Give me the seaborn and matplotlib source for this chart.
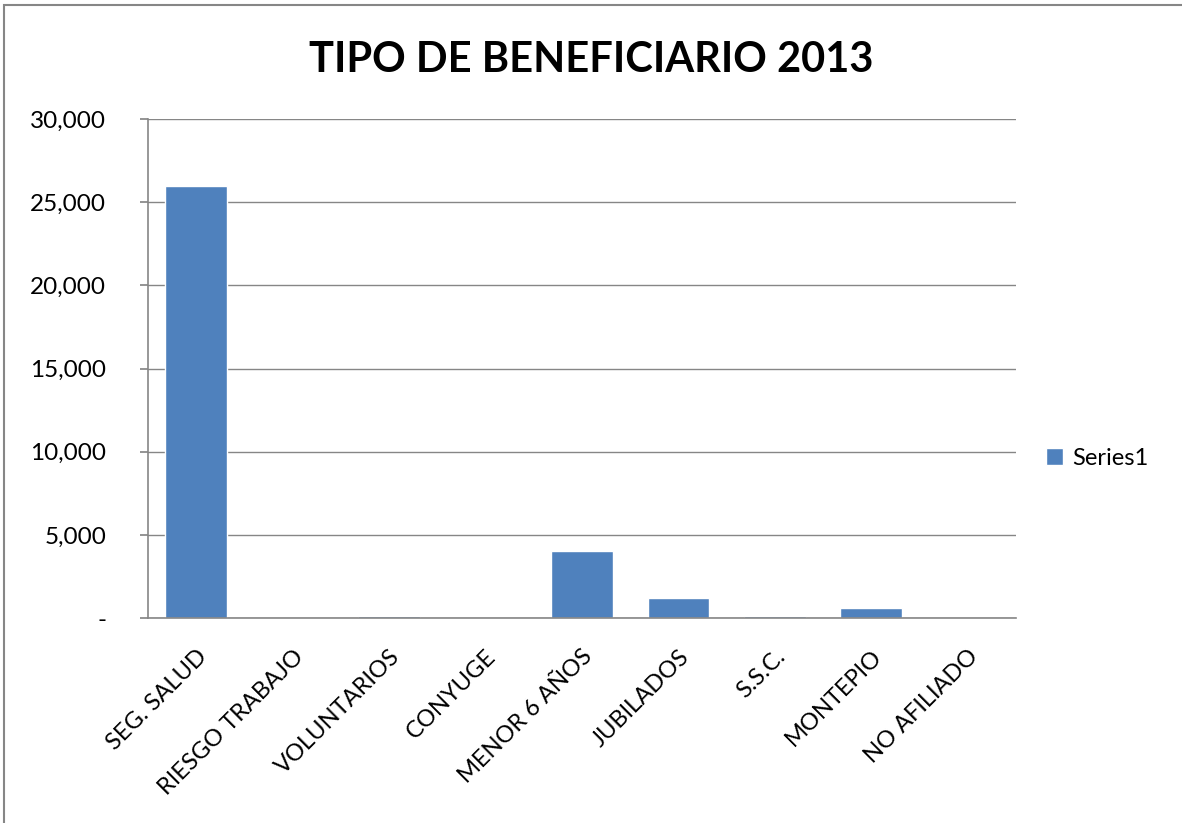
import matplotlib
matplotlib.use("Agg")
import matplotlib.pyplot as plt
import matplotlib.ticker as mticker
from matplotlib.patches import Rectangle
import pandas as pd
import seaborn as sns

# Datos
categorias = ["SEG. SALUD", "RIESGO TRABAJO", "VOLUNTARIOS", "CONYUGE", "MENOR 6 AÑOS",
              "JUBILADOS", "S.S.C.", "MONTEPIO", "NO AFILIADO"]
valores = [25950, 0, 120, 0, 4030, 1180, 140, 580, 0]
serie = "Series1"

df = pd.DataFrame({"Tipo": categorias, "Valor": valores, "Serie": serie})

sns.set_theme(style="white")
plt.rcParams["font.family"] = ["Lato", "DejaVu Sans"]
plt.rcParams["text.color"] = "black"

fig = plt.figure(figsize=(11.82, 8.23), dpi=100)
ax = fig.add_axes([0.125, 0.249, 0.7346, 0.6064])

sns.barplot(data=df, x="Tipo", y="Valor", hue="Serie", palette=["#4F81BD"],
            width=0.64, ax=ax, saturation=1)

ax.set_ylim(0, 30000)
ax.set_yticks(range(0, 30001, 5000))
ax.yaxis.set_major_formatter(mticker.FuncFormatter(lambda v, p: "-" if v == 0 else f"{int(v):,}"))
ax.grid(axis="y", color="#868686", linewidth=1)
ax.set_axisbelow(True)
ax.set_xlabel("")
ax.set_ylabel("")

for s in ["top", "right"]:
    ax.spines[s].set_visible(False)
for s in ["left", "bottom"]:
    ax.spines[s].set_color("#868686")
    ax.spines[s].set_linewidth(1.2)

ax.tick_params(axis="y", which="major", left=True, length=6, color="#868686",
               labelsize=17.5, pad=24, labelcolor="black")
ax.tick_params(axis="x", bottom=False, labelsize=17, pad=14, labelcolor="black")
plt.setp(ax.get_xticklabels(), rotation=45, ha="right", rotation_mode="anchor")

fig.suptitle("TIPO DE BENEFICIARIO 2013", fontsize=30, fontweight="bold", y=0.95, color="black")

leg = ax.legend(loc="center left", bbox_to_anchor=(1.01, 0.32), frameon=False,
                fontsize=17, handlelength=0.7, handleheight=0.7, handletextpad=0.4,
                labelcolor="black")

# Marco del gráfico
fig.patches.append(Rectangle((0.003, -0.1), 1.2, 1.094, transform=fig.transFigure,
                             fill=False, edgecolor="#868686", linewidth=1.5))

fig.savefig("out.png", dpi=100)
